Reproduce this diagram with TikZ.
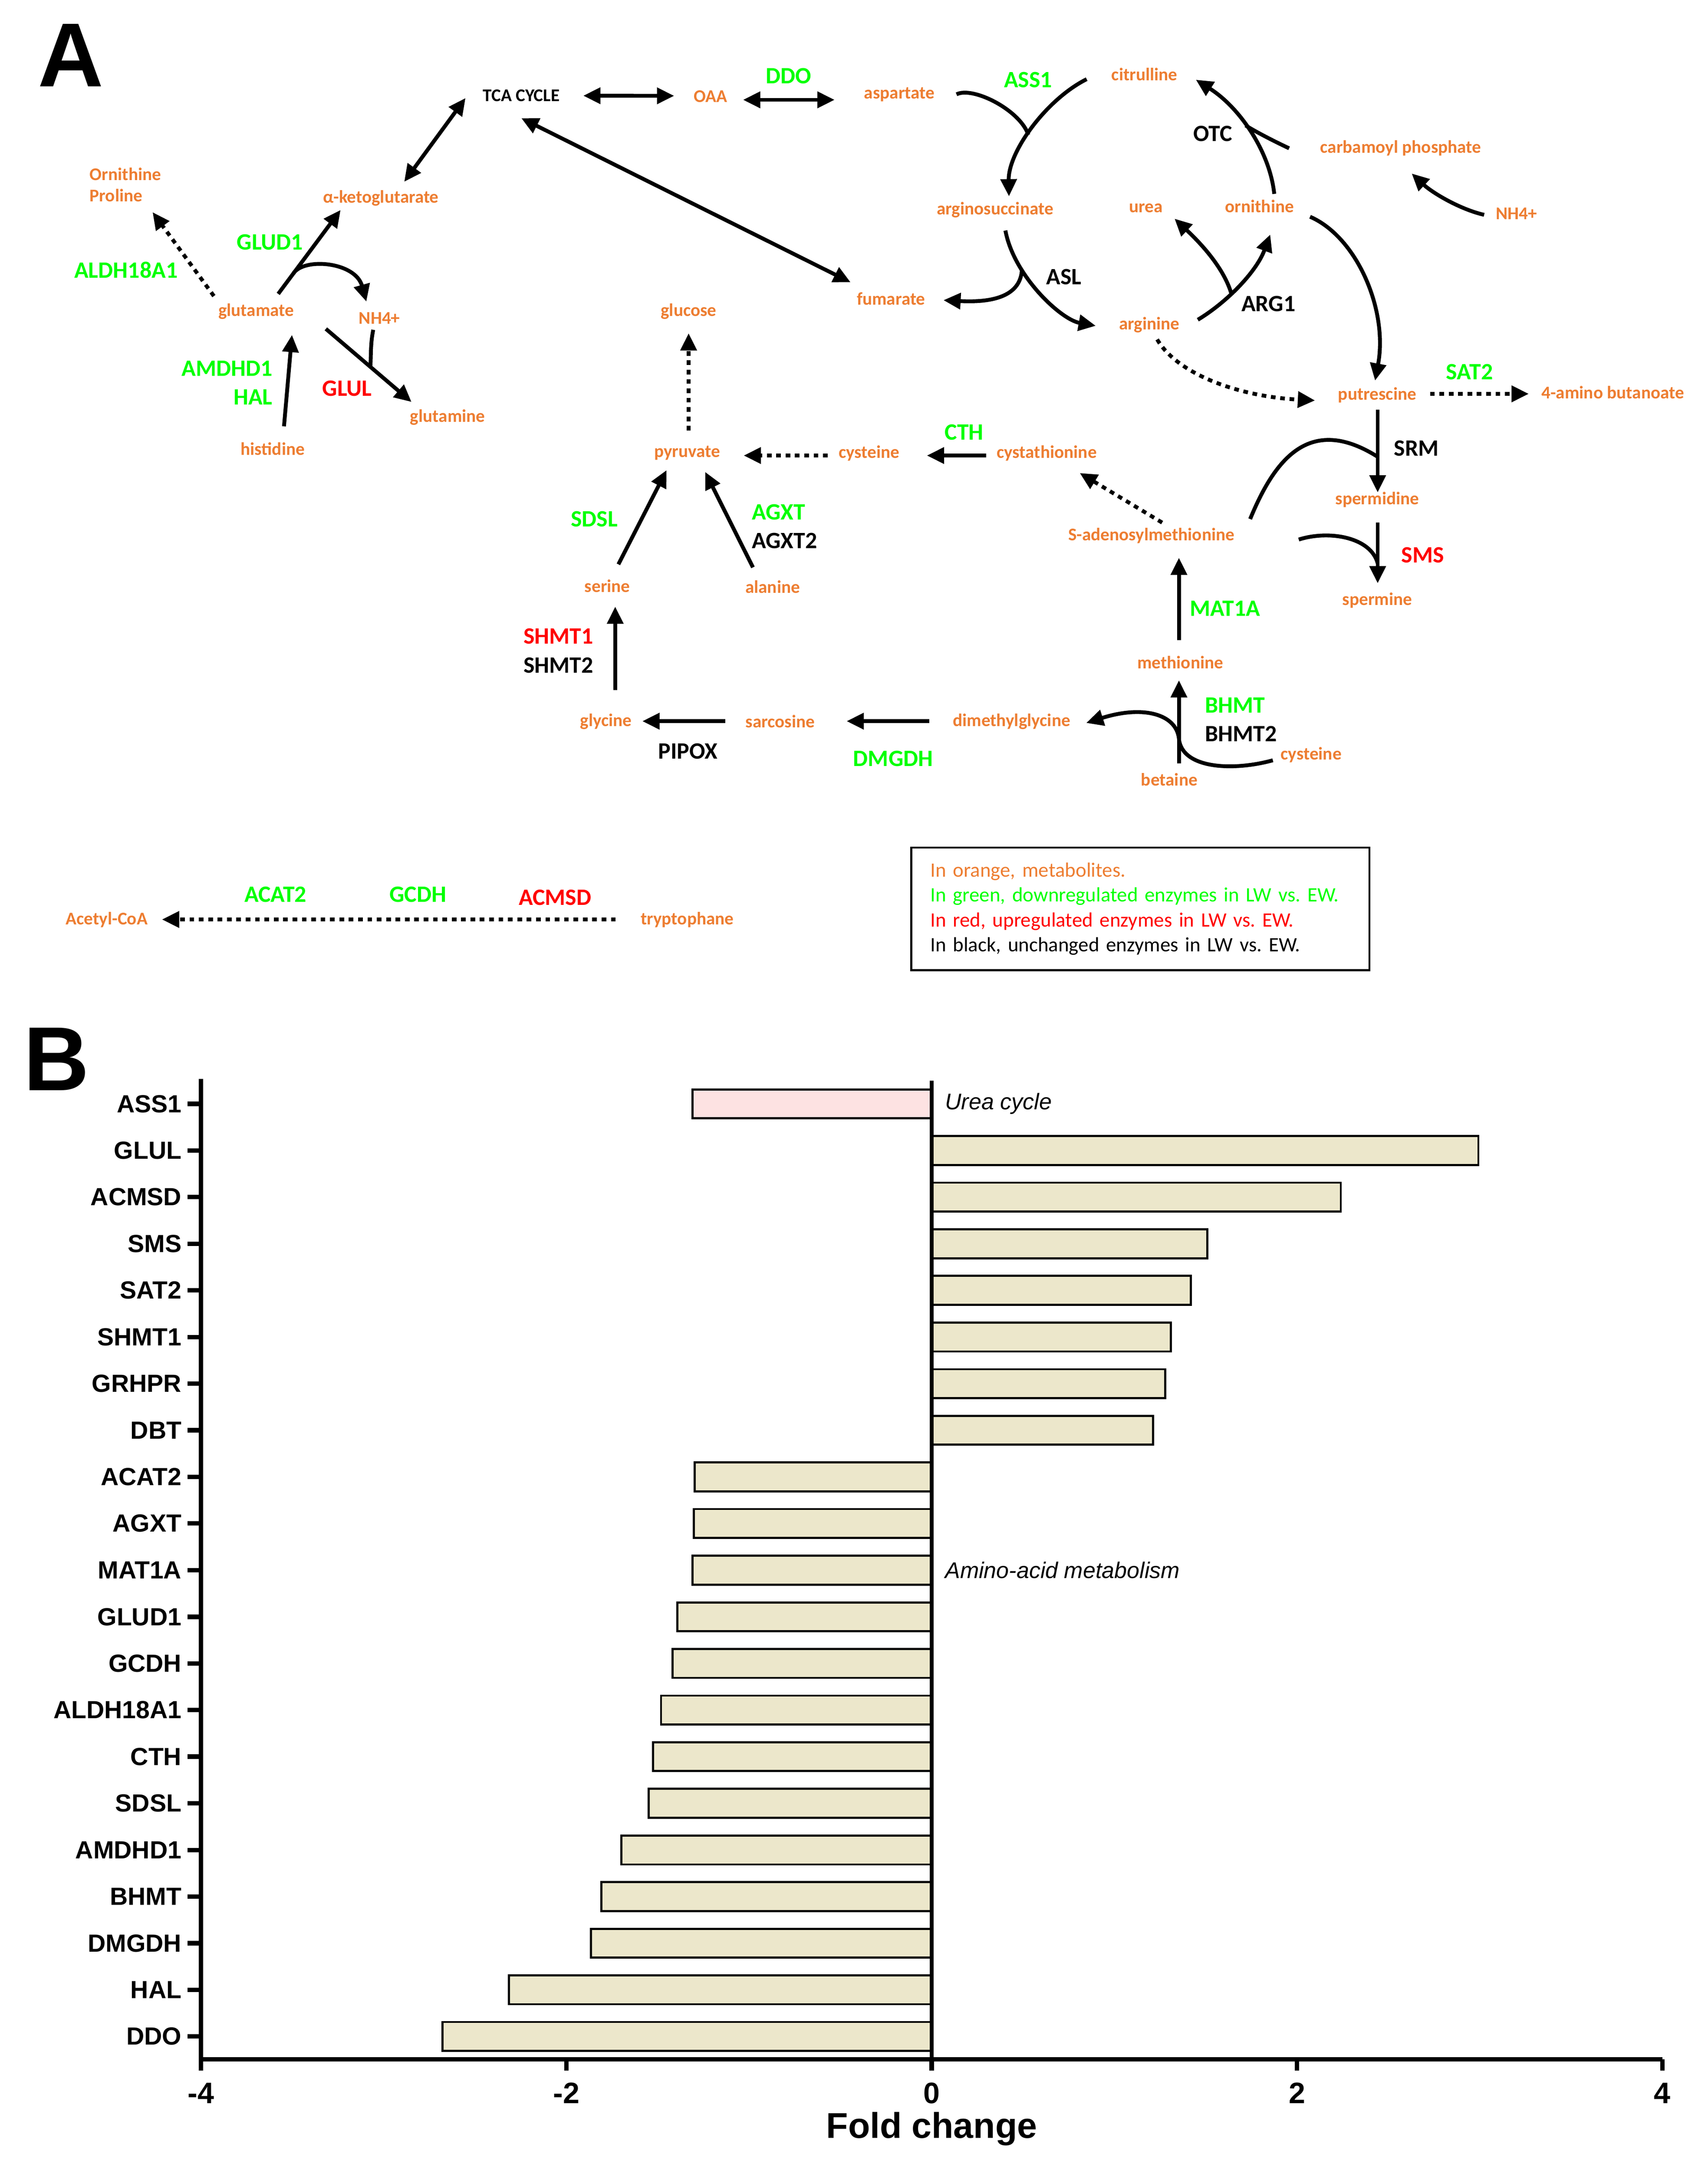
\documentclass[tikz,border=0pt]{standalone}
\usepackage{fontspec}
\setmainfont{Carlito}
\newfontfamily\arialfont{Liberation Sans}
\usepackage{xcolor}
\usepackage{tikz}
\usetikzlibrary{arrows.meta, positioning}
\definecolor{metorange}{RGB}{237,125,49}
\definecolor{downgreen}{RGB}{0,255,0}
\definecolor{upred}{RGB}{255,0,0}
\definecolor{barbeige}{RGB}{236,231,203}
\definecolor{barpink}{RGB}{253,226,226}
\frenchspacing

\begin{document}
\begin{tikzpicture}[x=1pt, y=-1pt,
  met/.style={font=\bfseries\fontsize{13}{15.5}\selectfont, text=metorange, inner sep=0pt},
  enz/.style={font=\bfseries\fontsize{17}{20}\selectfont, inner sep=0pt},
  downenz/.style={enz, text=downgreen},
  upenz/.style={enz, text=upred},
  sameenz/.style={enz, text=black},
  panel/.style={font=\arialfont\bfseries\fontsize{66}{70}\selectfont, inner sep=0pt},
  arrow/.style={-{Triangle[length=12.5pt,width=11.5pt]}, line width=2.8pt},
  dbl/.style={{Triangle[length=12.5pt,width=11.5pt]}-{Triangle[length=12.5pt,width=11.5pt]}, line width=2.8pt},
  dotarrow/.style={arrow, dash pattern=on 3.4pt off 3.4pt},
  joinline/.style={line width=2.8pt},
  legbox/.style={draw, line width=1.4pt, minimum width=332.6pt, minimum height=89pt,
    text width=305pt, inner xsep=13.8pt, inner ysep=0pt, align=left, font=\fontsize{14.8}{18.1}\selectfont},
  gene/.style={font=\arialfont\bfseries\fontsize{18}{20}\selectfont, inner sep=0pt, anchor=east},
  ticklbl/.style={font=\arialfont\bfseries\fontsize{21.5}{24}\selectfont, inner sep=0pt},
  axlabel/.style={font=\arialfont\bfseries\fontsize{26}{30}\selectfont, inner sep=0pt},
  note/.style={font=\arialfont\itshape\fontsize{16.4}{19}\selectfont, inner sep=0pt, anchor=west},
  axisline/.style={line width=3.2pt},
  barbox/.style={draw, line width=1.5pt, fill=barbeige}
]
  \useasboundingbox (0,0) rectangle (1240,1575.8);

  \node[panel] (pa) at (51.5,40.3) {A};

  \node[met, text=black] (tca) at (378.5,69.5) {TCA CYCLE};
  \node[met] (akg) at (276.5,144) {α-ketoglutarate};
  \node[met, anchor=west, align=left] (ornpro) at (65,134.2) {Ornithine\\Proline};
  \node[met] (glu) at (186,226) {glutamate};
  \node[met] (nh4a) at (275.5,231) {NH4+};
  \node[met] (gln) at (325,303) {glutamine};
  \node[met] (his) at (198,326) {histidine};
  \node[met] (oaa) at (516,70) {OAA};
  \node[met] (asp) at (653,68.5) {aspartate};
  \node[met] (cit) at (831,54) {citrulline};
  \node[met] (asuc) at (722.5,152.5) {arginosuccinate};
  \node[met] (fum) at (647,217) {fumarate};
  \node[met] (urea) at (832,151) {urea};
  \node[met] (arg) at (834.5,236) {arginine};
  \node[met] (orn) at (914.5,149.7) {ornithine};
  \node[met] (carb) at (1017,107.7) {carbamoyl phosphate};
  \node[met] (nh4b) at (1101,155) {NH4+};
  \node[met] (glc) at (500,226) {glucose};
  \node[met] (pyr) at (499,329) {pyruvate};
  \node[met] (cys) at (631,329) {cysteine};
  \node[met] (cth) at (760,329) {cystathionine};
  \node[met] (put) at (1000,287) {putrescine};
  \node[met] (gaba) at (1171,285) {4-amino butanoate};
  \node[met] (spd) at (1000,362.7) {spermidine};
  \node[met] (spm) at (1000,436) {spermine};
  \node[met] (sam) at (836,389) {S-adenosylmethionine};
  \node[met] (met) at (857,481) {methionine};
  \node[met] (bet) at (849,566) {betaine};
  \node[met] (cysb) at (952,548) {cysteine};
  \node[met] (dmg) at (734.5,524) {dimethylglycine};
  \node[met] (sar) at (566.5,524) {sarcosine};
  \node[met] (gly) at (440,524) {glycine};
  \node[met] (ser) at (441,425.4) {serine};
  \node[met] (ala) at (561,426) {alanine};
  \node[met] (acoa) at (77.5,668) {Acetyl-CoA};
  \node[met] (trp) at (499,668) {tryptophane};

  \node[downenz] (glud1) at (196,176) {GLUD1};
  \node[downenz] (aldh) at (91.5,196) {ALDH18A1};
  \node[downenz, anchor=east] (amdhd1) at (198,267.5) {AMDHD1};
  \node[downenz, anchor=east] (hal) at (198,288.5) {HAL};
  \node[upenz] (glul) at (252,282) {GLUL};
  \node[downenz] (ddo) at (572.5,55) {DDO};
  \node[downenz] (ass1) at (746.5,58) {ASS1};
  \node[sameenz] (otc) at (880.5,97) {OTC};
  \node[sameenz] (asl) at (772.5,201) {ASL};
  \node[sameenz] (arg1) at (921,220.5) {ARG1};
  \node[downenz] (sat2) at (1067,270) {SAT2};
  \node[sameenz] (srm) at (1028.5,325.5) {SRM};
  \node[upenz] (sms) at (1033,403) {SMS};
  \node[downenz] (ecth) at (700,314) {CTH};
  \node[downenz] (mat1a) at (889.5,442) {MAT1A};
  \node[downenz, anchor=west] (bhmt) at (874.7,512) {BHMT};
  \node[sameenz, anchor=west] (bhmt2) at (874.7,533) {BHMT2};
  \node[downenz] (dmgdh) at (648.5,551) {DMGDH};
  \node[sameenz] (pipox) at (499.5,545.6) {PIPOX};
  \node[upenz, anchor=east] (shmt1) at (431,462) {SHMT1};
  \node[sameenz, anchor=east] (shmt2) at (431,483) {SHMT2};
  \node[downenz] (sdsl) at (431.5,377) {SDSL};
  \node[downenz, anchor=west] (agxt) at (545.8,372) {AGXT};
  \node[sameenz, anchor=west] (agxt2) at (545.8,392.6) {AGXT2};
  \node[downenz] (acat2) at (200,649.5) {ACAT2};
  \node[downenz] (gcdh) at (303.5,649.5) {GCDH};
  \node[upenz] (acmsd) at (403,651.7) {ACMSD};

  \node[legbox] (leg) at (828,660) {\textcolor{metorange}{In orange, metabolites.}\\
    \textcolor{downgreen}{In green, downregulated enzymes in LW vs. EW.}\\
    \textcolor{upred}{In red, upregulated enzymes in LW vs. EW.}\\
    In black, unchanged enzymes in LW vs. EW.};

  \draw[dbl] ([shift={(-40.5,1.7)}]tca.center) -- ([shift={(17,-12)}]akg.center);
  \draw[dbl] ([shift={(45,0)}]tca.center) -- ([shift={(-26.5,-0.4)}]oaa.center);
  \draw[dbl] ([shift={(23.5,2.5)}]oaa.center) -- ([shift={(-47,4)}]asp.center);
  \draw[dbl] ([shift={(0,16.3)}]tca.center) -- ([shift={(-29.4,-12)}]fum.center);
  \draw[arrow] ([shift={(16,-12.6)}]glu.center) -- ([shift={(-29.2,8.5)}]akg.center) coordinate[pos=0.24] (gludj);
  \draw[arrow] (gludj) .. controls +(7.4,-12) and +(-8,-29) .. ([shift={(-9.5,-12)}]nh4a.center);
  \draw[dotarrow] ([shift={(-30.7,-11)}]glu.center) -- ([shift={(45.8,19.9)}]ornpro.west);
  \draw[arrow] ([shift={(8.2,-16.4)}]his.center) -- ([shift={(26,17.2)}]glu.center);
  \draw[arrow] ([shift={(50.6,12.8)}]glu.center) -- ([shift={(-26.2,-11.1)}]gln.center) coordinate[pos=0.52] (glulj);
  \draw[joinline] ([shift={(-4.5,8.5)}]nh4a.center) .. controls +(-2,10) and +(0.5,-10) .. (glulj);

  \draw[arrow] ([shift={(-42,3.5)}]cit.center) .. controls +(-29,14.5) and +(-0.6,-32.6) .. ([shift={(10.1,-9.9)}]asuc.center) coordinate[pos=0.55] (ass1j);
  \draw[joinline] ([shift={(41.5,0)}]asp.center) .. controls +(12,-6) and +(-6,-18) .. (ass1j);
  \draw[arrow] ([shift={(7.5,14.9)}]asuc.center) .. controls +(6,32.6) and +(-25.6,-4.6) .. ([shift={(-38.9,0.6)}]arg.center) coordinate[pos=0.3] (aslj);
  \draw[arrow] (aslj) .. controls +(-1,18.2) and +(38,2) .. ([shift={(38,1)}]fum.center);
  \draw[arrow] ([shift={(10.7,-8.9)}]orn.center) .. controls +(-3.2,-30.8) and +(31.7,20.1) .. ([shift={(37.3,3.9)}]cit.center) coordinate[pos=0.55] (otcj);
  \draw[joinline] ([shift={(-81,0)}]carb.center) .. controls +(-10,-4.7) and +(8.7,5.4) .. (otcj);
  \draw[arrow] ([shift={(-23.4,1)}]nh4b.center) .. controls +(-17.6,-4) and +(15,14) .. ([shift={(8,18.3)}]carb.center);
  \draw[arrow] ([shift={(35.2,-3.8)}]arg.center) .. controls +(20.3,-12.2) and +(-10.3,27.7) .. ([shift={(7.8,20.6)}]orn.center) coordinate[pos=0.4] (arg1j);
  \draw[arrow] (arg1j) .. controls +(-6,-20) and +(17.2,16.2) .. ([shift={(20.8,7.8)}]urea.center);
  \draw[arrow] ([shift={(36.7,7.7)}]orn.center) .. controls +(33.8,14.6) and +(9.6,-51.4) .. ([shift={(-1.6,-10.6)}]put.center);
  \draw[dotarrow] ([shift={(5.7,10.5)}]arg.center) .. controls +(14.8,25.5) and +(-54.8,-2.8) .. ([shift={(-45.2,3.8)}]put.center);
  \draw[dotarrow] ([shift={(38.3,-1)}]put.center) -- ([shift={(-61,1)}]gaba.center);

  \draw[arrow] ([shift={(0.3,10.4)}]put.center) -- ([shift={(0.3,-5.1)}]spd.center) coordinate[pos=0.57] (srmj);
  \draw[joinline] ([shift={(71.7,-12.1)}]sam.center) .. controls +(17.3,-41.9) and +(-50.3,-31.7) .. (srmj);
  \draw[arrow] ([shift={(0.3,16.8)}]spd.center) -- ([shift={(0.3,-12.4)}]spm.center) coordinate[pos=0.67] (smsj);
  \draw[joinline] ([shift={(107,2.8)}]sam.center) .. controls +(22,-7) and +(-5,-19) .. (smsj);
  \draw[dotarrow] ([shift={(7.8,-9.5)}]sam.center) -- ([shift={(24,14.5)}]cth.center);
  \draw[arrow] ([shift={(-1,-16)}]met.center) -- ([shift={(20,16)}]sam.center);
  \draw[arrow] ([shift={(7,-11.5)}]bet.center) -- ([shift={(-1,13)}]met.center) coordinate[pos=0.3] (bhmtj);
  \draw[arrow] ([shift={(-27.8,4.1)}]cysb.center) .. controls +(-29,8) and +(2,22) .. (bhmtj)
    .. controls +(-2,-18) and +(41,-13) .. ([shift={(54.2,1)}]dmg.center);
  \draw[arrow] ([shift={(-59.7,-0.3)}]dmg.center) -- ([shift={(48.2,-0.3)}]sar.center);
  \draw[arrow] ([shift={(-40,-0.3)}]sar.center) -- ([shift={(26.4,-0.3)}]gly.center);
  \draw[arrow] ([shift={(6.7,-23)}]gly.center) -- ([shift={(5.7,15.1)}]ser.center);
  \draw[arrow] ([shift={(8,-15.6)}]ser.center) -- ([shift={(-15,12.4)}]pyr.center);
  \draw[arrow] ([shift={(-14.3,-14)}]ala.center) -- ([shift={(13,13.7)}]pyr.center);
  \draw[dotarrow] ([shift={(1,-16.3)}]pyr.center) -- ([shift={(0,16)}]glc.center);
  \draw[dotarrow] ([shift={(-30,1.8)}]cys.center) -- ([shift={(41,1.8)}]pyr.center);
  \draw[arrow] ([shift={(-44,1.8)}]cth.center) -- ([shift={(42,1.8)}]cys.center);
  \draw[dotarrow] ([shift={(-52,-0.3)}]trp.center) -- ([shift={(40.1,-0.3)}]acoa.center);

  \node[panel] (pb) at (41,769) {B};

  \draw[barbox, fill=barpink] (676.5,791.1) rectangle (502.9,812.1);
  \draw[barbox] (676.5,825.0) rectangle (1073.4,846.0);
  \draw[barbox] (676.5,858.8) rectangle (973.5,879.8);
  \draw[barbox] (676.5,892.7) rectangle (876.6,913.7);
  \draw[barbox] (676.5,926.5) rectangle (864.7,947.5);
  \draw[barbox] (676.5,960.4) rectangle (850.2,981.4);
  \draw[barbox] (676.5,994.3) rectangle (846.0,1015.3);
  \draw[barbox] (676.5,1028.1) rectangle (837.2,1049.1);
  \draw[barbox] (676.5,1062.0) rectangle (504.3,1083.0);
  \draw[barbox] (676.5,1095.8) rectangle (503.8,1116.8);
  \draw[barbox] (676.5,1129.7) rectangle (502.9,1150.7);
  \draw[barbox] (676.5,1163.6) rectangle (491.9,1184.6);
  \draw[barbox] (676.5,1197.4) rectangle (488.4,1218.4);
  \draw[barbox] (676.5,1231.3) rectangle (480.0,1252.3);
  \draw[barbox] (676.5,1265.1) rectangle (474.2,1286.1);
  \draw[barbox] (676.5,1299.0) rectangle (471.1,1320.0);
  \draw[barbox] (676.5,1332.9) rectangle (451.2,1353.9);
  \draw[barbox] (676.5,1366.7) rectangle (436.6,1387.7);
  \draw[barbox] (676.5,1400.6) rectangle (429.1,1421.6);
  \draw[barbox] (676.5,1434.4) rectangle (369.5,1455.4);
  \draw[barbox] (676.5,1468.3) rectangle (321.3,1489.3);
  \draw[line width=2.8pt] (676.5,784.7) -- (676.5,1495.5);

  \draw[axisline] (146,783.4) -- (146,1495.5) -- (1207,1495.5);
  \draw[axisline] (146,1495.5) -- (146,1503.6) (411.2,1495.5) -- (411.2,1503.6) (676.5,1495.5) -- (676.5,1503.6)
    (941.8,1495.5) -- (941.8,1503.6) (1207,1495.5) -- (1207,1503.6);
  \draw[axisline] (136,801.6) -- (146,801.6) (136,835.5) -- (146,835.5) (136,869.3) -- (146,869.3)
    (136,903.2) -- (146,903.2) (136,937.0) -- (146,937.0) (136,970.9) -- (146,970.9)
    (136,1004.8) -- (146,1004.8) (136,1038.6) -- (146,1038.6) (136,1072.5) -- (146,1072.5)
    (136,1106.3) -- (146,1106.3) (136,1140.2) -- (146,1140.2) (136,1174.1) -- (146,1174.1)
    (136,1207.9) -- (146,1207.9) (136,1241.8) -- (146,1241.8) (136,1275.6) -- (146,1275.6)
    (136,1309.5) -- (146,1309.5) (136,1343.4) -- (146,1343.4) (136,1377.2) -- (146,1377.2)
    (136,1411.1) -- (146,1411.1) (136,1444.9) -- (146,1444.9) (136,1478.8) -- (146,1478.8);

  \node[gene] (gASS1) at (132,801.6) {ASS1};
  \node[gene] (gGLUL) at (132,835.5) {GLUL};
  \node[gene] (gACMSD) at (132,869.3) {ACMSD};
  \node[gene] (gSMS) at (132,903.2) {SMS};
  \node[gene] (gSAT2) at (132,937.0) {SAT2};
  \node[gene] (gSHMT1) at (132,970.9) {SHMT1};
  \node[gene] (gGRHPR) at (132,1004.8) {GRHPR};
  \node[gene] (gDBT) at (132,1038.6) {DBT};
  \node[gene] (gACAT2) at (132,1072.5) {ACAT2};
  \node[gene] (gAGXT) at (132,1106.3) {AGXT};
  \node[gene] (gMAT1A) at (132,1140.2) {MAT1A};
  \node[gene] (gGLUD1) at (132,1174.1) {GLUD1};
  \node[gene] (gGCDH) at (132,1207.9) {GCDH};
  \node[gene] (gALDH) at (132,1241.8) {ALDH18A1};
  \node[gene] (gCTH) at (132,1275.6) {CTH};
  \node[gene] (gSDSL) at (132,1309.5) {SDSL};
  \node[gene] (gAMDHD1) at (132,1343.4) {AMDHD1};
  \node[gene] (gBHMT) at (132,1377.2) {BHMT};
  \node[gene] (gDMGDH) at (132,1411.1) {DMGDH};
  \node[gene] (gHAL) at (132,1444.9) {HAL};
  \node[gene] (gDDO) at (132,1478.8) {DDO};

  \node[note] (nurea) at (686,801.6) {Urea cycle};
  \node[note] (namino) at (686,1140.2) {Amino-acid metabolism};

  \node[ticklbl] (xm4) at (146,1520) {-4};
  \node[ticklbl] (xm2) at (411.2,1520) {-2};
  \node[ticklbl] (x0) at (676.5,1520) {0};
  \node[ticklbl] (x2) at (941.8,1520) {2};
  \node[ticklbl] (x4) at (1207,1520) {4};
  \node[axlabel] (xlab) at (676.5,1546) {Fold change};
\end{tikzpicture}
\end{document}
